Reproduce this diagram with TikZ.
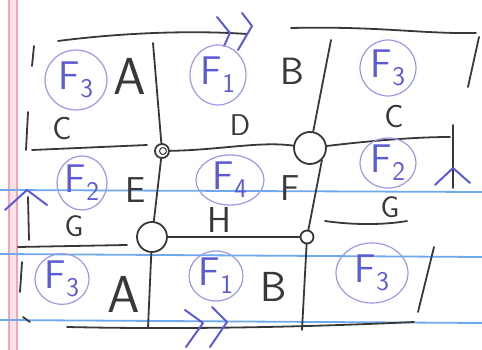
\documentclass[tikz,border=0pt]{standalone}
\usetikzlibrary{shapes.geometric}
\definecolor{cink}{HTML}{383838}
\definecolor{cpen}{HTML}{5B5BD6}
\definecolor{cring}{HTML}{9A9AE6}
\definecolor{crule}{HTML}{6FA8EC}
\definecolor{cmargin}{HTML}{F3A6B0}
\newcommand{\fsub}[1]{F\raisebox{-0.45ex}{\fontsize{27}{27}\selectfont #1}}
\tikzset{
  every picture/.style={line cap=round, line join=round},
  ink/.style={draw=cink, line width=1.8pt},
  rule/.style={draw=crule, line width=1.8pt},
  margin/.style={draw=cmargin, line width=2.8pt},
  lbl/.style={text=cink, font=\sffamily\fontsize{#1}{#1}\selectfont, inner sep=0pt},
  lbl/.default=34,
  face/.style n args={2}{ellipse, draw=cring, line width=1.2pt, text=cpen, minimum width=#1, minimum height=#2, inner sep=0pt, font=\sffamily\fontsize{40}{40}\selectfont},
  corner/.style={circle, draw=cink, line width=1.8pt, minimum size=#1, inner sep=0pt},
  chevron/.style={draw=cpen, line width=2pt},
}

\begin{document}
\begin{tikzpicture}[x=1pt, y=-1pt]
  \useasboundingbox (0,0) rectangle (482,350);
  % paper: margin and rules
  \fill[cmargin!30] (9,0) rectangle (17,350);
  \draw[margin] (9,0) -- (9,350);
  \draw[margin] (17,0) -- (17,350);
  \draw[rule] (0,190) -- (482,192);
  \draw[rule] (0,254) -- (482,257);
  \draw[rule] (0,320) -- (482,323);

  % corners of the middle square
  \node[corner=14pt] (tl) at (162,151) {};
  \node[corner=7pt, line width=1pt] at (163,151) {};
  \node[corner=32pt] (tr) at (310,148) {};
  \node[corner=30pt] (bl) at (152,237) {};
  \node[corner=13pt] (br) at (307,237) {};
  \draw[ink] (tl) .. controls (220,150) and (260,141) .. (tr);
  \draw[ink] (tl) -- (bl);
  \draw[ink] (tr.south east) -- (br);
  \draw[ink] (bl) -- (br);

  % outer grid, top row
  \draw[ink] (58,41) .. controls (120,33) and (190,30) .. (247,34);
  \draw[ink] (291,28) .. controls (380,26) and (420,34) .. (476,33);
  \draw[ink] (34,46) -- (32,66);
  \draw[ink] (28,112) -- (26,150);
  \draw[ink] (153,43) -- (tl);
  \draw[ink] (331,40) -- (tr);
  \draw[ink] (479,37) -- (468,87);
  \draw[ink] (32,150) -- (147,145);
  \draw[ink] (tr) .. controls (360,142) and (410,137) .. (450,137);
  % middle row
  \draw[ink] (453,125) -- (453,188);
  \draw[chevron] (435,185) -- (453,168) -- (470,183);
  \draw[ink] (28,197) -- (29,240);
  \draw[chevron] (5,210) -- (27,190) -- (47,205);
  \draw[ink] (18,247) -- (127,245);
  \draw[ink] (325,221) .. controls (360,226) and (390,224) .. (407,221);
  % bottom row
  \draw[ink] (bl) -- (148,328);
  \draw[ink] (br) -- (302,330);
  \draw[ink] (22,262) -- (20,292);
  \draw[ink] (434,247) -- (418,312);
  \draw[ink] (23,317) -- (30,322);
  \draw[ink] (67,327) .. controls (200,330) and (330,326) .. (414,322);

  % gluing marks
  \draw[chevron] (217,17) -- (230,33) -- (224,46);
  \draw[chevron] (242,13) -- (252,26) -- (238,50);
  \draw[chevron] (185,310) -- (203,323) -- (186,347);
  \draw[chevron] (212,307) -- (227,322) -- (210,347);

  % faces
  \node[face={62pt}{60pt}] (f3a) at (76,80) {\fsub{3}};
  \node[face={56pt}{60pt}] (f1a) at (218,75) {\fsub{1}};
  \node[face={56pt}{56pt}] (f3b) at (388,68) {\fsub{3}};
  \node[face={50pt}{54pt}] (f2a) at (82,183) {\fsub{2}};
  \node[face={68pt}{44pt}] (f4) at (230,180) {\fsub{4}};
  \node[face={56pt}{48pt}] (f2b) at (388,163) {\fsub{2}};
  \node[face={54pt}{48pt}] (f3c) at (62,279) {\fsub{3}};
  \node[face={54pt}{48pt}] (f1b) at (216,276) {\fsub{1}};
  \node[face={72pt}{60pt}] (f3d) at (372,273) {\fsub{3}};

  % edge letters
  \node[lbl=52] (a1) at (130,76) {A};
  \node[lbl=38] (b1) at (292,71) {B};
  \node[lbl=32] (c1) at (62,129) {C};
  \node[lbl=30] (d) at (240,125) {D};
  \node[lbl=32] (c2) at (394,117) {C};
  \node[lbl=36] (e) at (136,190) {E};
  \node[lbl=36] (f) at (290,188) {F};
  \node[lbl=30] (g1) at (74,226) {G};
  \node[lbl=36] (h) at (219,220) {H};
  \node[lbl=30] (g2) at (390,207) {G};
  \node[lbl=52] (a2) at (124,294) {A};
  \node[lbl=42] (b2) at (274,287) {B};
\end{tikzpicture}
\end{document}
